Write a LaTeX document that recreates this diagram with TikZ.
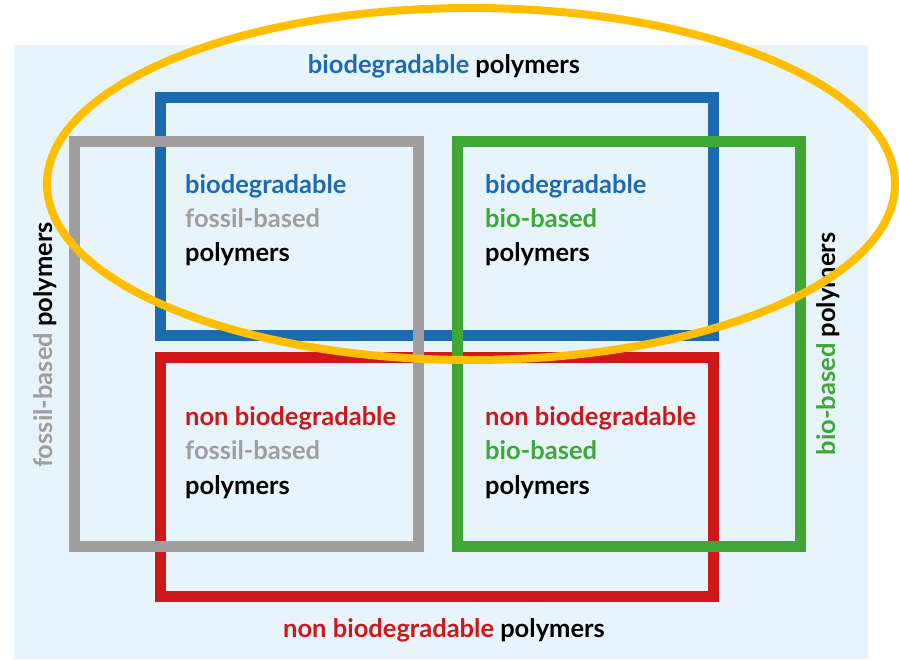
\documentclass[tikz,border=0pt]{standalone}
\usepackage{fontspec}
\setmainfont{Lato}
\usepackage{xcolor}
\usepackage{tikz}
\usetikzlibrary{positioning}

\definecolor{bgblue}{RGB}{232,244,252}
\definecolor{degblue}{RGB}{30,106,176}
\definecolor{fossilgray}{RGB}{158,158,158}
\definecolor{biogreen}{RGB}{64,166,53}
\definecolor{nondegred}{RGB}{205,23,25}
\definecolor{ringorange}{RGB}{255,190,0}

\tikzset{
    setbox/.style={
        line width=11pt,
        line join=miter
    },
    celltext/.style={
        anchor=base west,
        inner sep=0pt,
        font=\fontsize{25.5}{30}\selectfont\bfseries
    },
    sidetext/.style={
        anchor=base,
        inner sep=0pt,
        font=\fontsize{25.5}{30}\selectfont\bfseries
    }
}

\begin{document}
\begin{tikzpicture}[x=1pt,y=-1pt]
                \useasboundingbox (0,0) rectangle (899,659);

                \fill[bgblue] (14,45) rectangle (868,659);

                \draw[
                    setbox,
                    draw=degblue
                    ] (160,97) rectangle (713,335);

                \draw[
                    setbox,
                    draw=nondegred
                    ] (160,357) rectangle (713,596);

                \draw[
                    setbox,
                    draw=fossilgray
                    ] (74,141) rectangle (418,546);

                \draw[
                    setbox,
                    draw=biogreen
                    ] (457,141) rectangle (800,546);

                \node[sidetext] (toplabel) at (444,73)
                    {\textcolor{degblue}{biodegradable} polymers};
                \node[sidetext] (bottomlabel) at (444,637)
                    {\textcolor{nondegred}{non biodegradable} polymers};
                \node[sidetext, rotate=90] (leftlabel) at (52,345)
                    {\textcolor{fossilgray}{fossil-based} polymers};
                \node[sidetext, rotate=90] (rightlabel) at (835,344)
                    {\textcolor{biogreen}{bio-based} polymers};

                \node[celltext, text=degblue] (degfossilA) at (185,193) {biodegradable};
                \node[celltext, text=fossilgray] (degfossilB) at (185,227) {fossil-based};
                \node[celltext] (degfossilC) at (185,261) {polymers};

                \node[celltext, text=degblue] (degbioA) at (485,193) {biodegradable};
                \node[celltext, text=biogreen] (degbioB) at (485,227) {bio-based};
                \node[celltext] (degbioC) at (485,261) {polymers};

                \node[celltext, text=nondegred] (nondegfossilA) at (185,425) {non biodegradable};
                \node[celltext, text=fossilgray] (nondegfossilB) at (185,459) {fossil-based};
                \node[celltext] (nondegfossilC) at (185,494) {polymers};

                \node[celltext, text=nondegred] (nondegbioA) at (485,425) {non biodegradable};
                \node[celltext, text=biogreen] (nondegbioB) at (485,459) {bio-based};
                \node[celltext] (nondegbioC) at (485,494) {polymers};

                \draw[
                    line width=8pt,
                    draw=ringorange
                    ] (471,184) ellipse [x radius=424pt, y radius=176pt];

            \end{tikzpicture}
\end{document}
